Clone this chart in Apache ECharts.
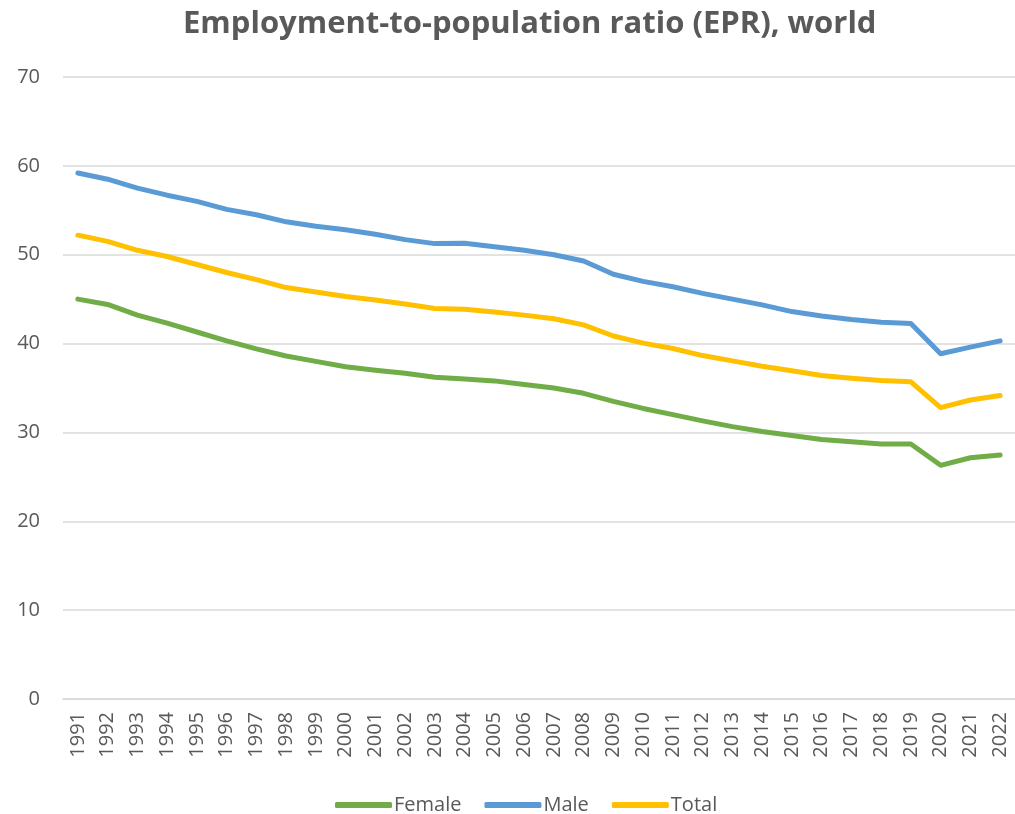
<!DOCTYPE html>
<html>
<head>
<meta charset="utf-8">
<script src="https://cdn.jsdelivr.net/npm/echarts@6/dist/echarts.min.js"></script>
<style>html,body{margin:0;padding:0;background:#fff}#c{width:1015px;height:814px}</style>
</head>
<body>
<div id="c"></div>
<script>
var years = ['1991','1992','1993','1994','1995','1996','1997','1998','1999','2000','2001','2002','2003','2004','2005','2006','2007','2008','2009','2010','2011','2012','2013','2014','2015','2016','2017','2018','2019','2020','2021','2022'];
var female = [45.0,44.4,43.2,42.3,41.3,40.3,39.4,38.6,38.0,37.4,37.0,36.65,36.2,36.0,35.8,35.4,35.0,34.4,33.5,32.7,32.0,31.3,30.65,30.1,29.65,29.2,28.95,28.7,28.7,26.3,27.15,27.45];
var male = [59.2,58.5,57.5,56.7,56.0,55.1,54.5,53.7,53.2,52.8,52.3,51.7,51.25,51.3,50.9,50.5,50.0,49.3,47.8,47.0,46.4,45.65,45.0,44.35,43.6,43.1,42.7,42.4,42.25,38.85,39.6,40.3];
var total = [52.2,51.5,50.5,49.8,48.9,48.0,47.2,46.3,45.8,45.3,44.9,44.45,43.95,43.85,43.55,43.2,42.8,42.1,40.85,40.05,39.45,38.65,38.05,37.45,36.95,36.4,36.1,35.85,35.7,32.8,33.65,34.15];
var yTicks = [0,10,20,30,40,50,60,70];

var chart = echarts.init(document.getElementById('c'));
var txt = '#595959';
function mk(name, data, color){
  return {name:name,type:'line',data:data,symbol:'none',smooth:false,
    lineStyle:{color:color,width:5,cap:'round',join:'round'},itemStyle:{color:color}};
}
chart.setOption({
  animation:false,
  title:{text:'Employment-to-population ratio (EPR), world',left:178,top:4,
    textStyle:{fontFamily:'Open Sans',fontWeight:'bold',fontSize:31,color:txt}},
  grid:{left:63,right:0,top:77,bottom:115,containLabel:false},
  legend:{top:790,left:330,itemWidth:57,itemHeight:6,itemGap:23,icon:'roundRect',
    textStyle:{fontFamily:'Open Sans',fontSize:20,color:txt,padding:[0,0,0,-3]},
    data:['Female','Male','Total']},
  xAxis:{type:'category',data:years,boundaryGap:true,
    axisLine:{show:true,lineStyle:{color:'#d9d9d9',width:1.5}},axisTick:{show:false},
    axisLabel:{rotate:90,fontFamily:'Open Sans',fontSize:20,color:txt,margin:13,interval:0}},
  yAxis:{type:'value',min:yTicks[0],max:yTicks[yTicks.length-1],interval:10,
    axisLine:{show:false},axisTick:{show:false},
    splitLine:{lineStyle:{color:'#d9d9d9',width:1.5}},
    axisLabel:{fontFamily:'Open Sans',fontSize:20,color:txt,margin:23}},
  series:[mk('Female',female,'#70AD47'),mk('Male',male,'#5B9BD5'),mk('Total',total,'#FFC000')]
});
</script>
</body>
</html>
